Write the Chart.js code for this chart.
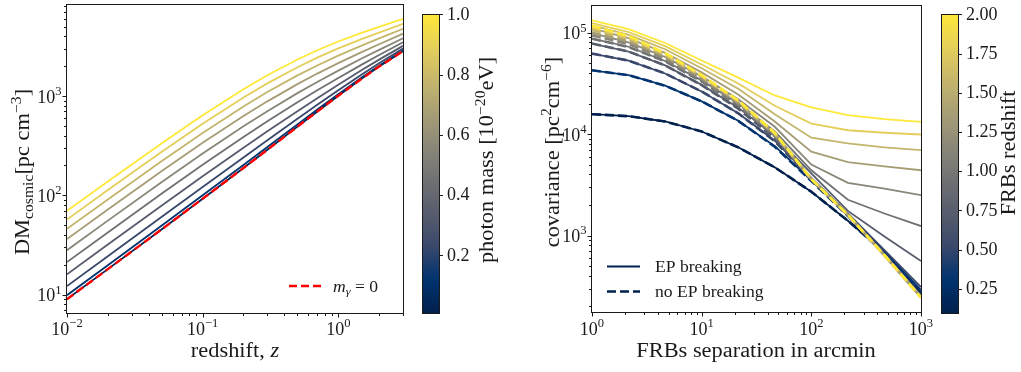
<!DOCTYPE html>
<html>
<head>
<meta charset="utf-8">
<script src="https://cdn.jsdelivr.net/npm/chart.js@4.4.1/dist/chart.umd.min.js"></script>
<style>
  html, body { margin: 0; padding: 0; background: #fff; }
  #wrap { position: relative; width: 1021px; height: 372px; overflow: hidden; }
  #wrap canvas { position: absolute; top: 0; }
</style>
</head>
<body>
<div id="wrap">
  <canvas id="dmChart" width="410" height="372" style="left:0"></canvas>
  <canvas id="massBar" width="110" height="372" style="left:410px"></canvas>
  <canvas id="covChart" width="420" height="372" style="left:520px"></canvas>
  <canvas id="zBar" width="91" height="372" style="left:930px"></canvas>
</div>
<script>
// left panel: DM_cosmic vs redshift, one curve per photon mass (1e-20 eV)
const redshift = [0.01, 0.02, 0.05, 0.1, 0.2, 0.3, 0.5, 0.7, 1.0, 1.5, 2.0, 3.0];
const photonMass = [0.01, 0.12, 0.23, 0.34, 0.45, 0.56, 0.67, 0.78, 0.89, 1.0];
const dmMassless = [9.02, 18.1, 45.6, 92.5, 188.5, 287.6, 491.6, 698.8, 1008, 1507, 1977, 2833];
const dmByMass = [
  [9.03, 18.1, 45.6, 92.6, 188.6, 287.7, 491.8, 699, 1008, 1507, 1977, 2833],
  [9.9, 19.8, 49.8, 100.4, 202.6, 306.7, 518.1, 730.3, 1044, 1548, 2020, 2878],
  [12.24, 24.45, 60.9, 121.4, 240.4, 357.9, 589, 814.7, 1142, 1657, 2135, 2999],
  [16.05, 31.97, 79.1, 155.7, 301.8, 441.1, 704.4, 952, 1300, 1835, 2323, 3196],
  [21.33, 42.4, 104.2, 203.2, 387, 556.5, 864.4, 1142, 1520, 2081, 2583, 3468],
  [28.09, 55.7, 136.4, 263.9, 495.9, 704.1, 1069, 1386, 1801, 2396, 2916, 3817],
  [36.31, 72, 175.6, 337.9, 628.6, 883.7, 1318, 1682, 2143, 2780, 3321, 4242],
  [46.01, 91.1, 221.7, 425.1, 784.9, 1096, 1612, 2031, 2547, 3232, 3799, 4742],
  [57.18, 113.2, 274.9, 525.5, 965, 1340, 1950, 2434, 3011, 3753, 4349, 5319],
  [69.8, 138.1, 335.1, 639.2, 1169, 1616, 2333, 2889, 3537, 4343, 4971, 5971]
];

// right panel: covariance vs FRB separation, one curve per FRB redshift
const sepArcmin = [1, 2.154, 4.642, 10, 21.54, 46.42, 100, 215.4, 464.2, 1000];
const frbRedshift = [0.1, 0.311, 0.522, 0.733, 0.944, 1.156, 1.367, 1.578, 1.789, 2.0];
const covEP = [
  [15700, 15000, 13300, 10600, 7400, 4700, 2700, 1400, 680, 272],
  [42500, 38000, 30000, 21000, 13500, 7600, 3500, 1600, 700, 290],
  [62000, 53000, 39500, 26300, 16000, 8600, 3700, 1650, 720, 311],
  [78000, 65000, 47500, 30500, 18200, 9600, 4100, 1750, 980, 560],
  [87000, 72500, 52500, 33800, 20000, 10600, 4400, 2250, 1650, 1240],
  [99000, 80000, 57500, 37000, 22000, 11800, 5000, 3300, 2900, 2500],
  [110000, 88000, 63000, 40500, 24500, 13300, 6700, 5300, 4800, 4400],
  [118000, 95000, 68500, 44500, 28000, 15700, 9200, 8100, 7400, 6950],
  [124000, 101000, 73500, 48500, 31500, 19000, 12700, 10900, 10300, 9900],
  [132000, 108000, 79000, 53000, 36000, 24000, 18300, 15400, 14000, 13200]
];
const covNoEP = [
  [15700, 15000, 13300, 10600, 7400, 4700, 2700, 1400, 680, 272],
  [42500, 38000, 30000, 21000, 13500, 7500, 3450, 1560, 665, 266],
  [62000, 53000, 39500, 26300, 16000, 8500, 3550, 1590, 652, 258],
  [78000, 65000, 47500, 30300, 17800, 9000, 3580, 1590, 645, 252],
  [87000, 72000, 52000, 33000, 19000, 9500, 3600, 1600, 642, 250],
  [94000, 77000, 55000, 34500, 19800, 9800, 3600, 1600, 641, 248],
  [100000, 82000, 58000, 36000, 20500, 10000, 3600, 1600, 640, 247],
  [106000, 86000, 60000, 37000, 21000, 10100, 3600, 1600, 640, 246],
  [112000, 89500, 61500, 37500, 21300, 10200, 3600, 1600, 640, 245],
  [117000, 92500, 63000, 38000, 21500, 10300, 3600, 1600, 640, 245]
];

const SERIF = '"Liberation Serif", "Times New Roman", serif';
const INK = '#1a1a1a';
const CIVIDIS = ['#00204D', '#00336F', '#39486B', '#575C6D', '#707173',
                 '#8A8779', '#A69D75', '#C4B56C', '#E4CF5B', '#FEE838'];

function cividis(t) {
  t = Math.min(1, Math.max(0, t));
  const f = t * (CIVIDIS.length - 1);
  const i = Math.min(Math.floor(f), CIVIDIS.length - 2), u = f - i;
  const a = CIVIDIS[i], b = CIVIDIS[i + 1];
  const ch = (h, k) => parseInt(h.substr(1 + 2 * k, 2), 16);
  const c = [0, 1, 2].map(k => Math.round(ch(a, k) + (ch(b, k) - ch(a, k)) * u));
  return 'rgb(' + c.join(',') + ')';
}

// text with super/subscripts, optionally rotated and stretched
function rich(ctx, parts, x, y, o) {
  const size = o.size, sx = o.sx || 1;
  const small = k => k === 'sup' || k === 'sub' || k === 'isub';
  const font = k => ((k === 'i' || k === 'isub') ? 'italic ' : '') + (small(k) ? size * 0.7 : size) + 'px ' + SERIF;
  const widths = parts.map(p => { ctx.font = font(p[1]); return ctx.measureText(p[0]).width; });
  const total = widths.reduce((s, w) => s + w, 0);
  ctx.save();
  ctx.translate(x, y);
  if (o.rot) ctx.rotate(o.rot);
  ctx.scale(sx, 1);
  ctx.fillStyle = INK;
  ctx.textBaseline = 'alphabetic';
  ctx.textAlign = 'left';
  let cx = o.align === 'center' ? -total / 2 : o.align === 'right' ? -total : 0;
  parts.forEach((p, i) => {
    ctx.font = font(p[1]);
    const dy = p[1] === 'sup' ? -size * 0.42 : small(p[1]) ? size * 0.2 : 0;
    ctx.fillText(p[0], cx, dy);
    cx += widths[i];
  });
  ctx.restore();
}

function logTicks(min, max) {
  const out = [];
  for (let e = Math.floor(Math.log10(min)); e <= Math.floor(Math.log10(max)); e++) {
    for (let k = 1; k <= 9; k++) {
      const v = k * Math.pow(10, e);
      if (v >= min * 0.999 && v <= max * 1.001) out.push({ v, e, major: k === 1 });
    }
  }
  return out;
}
const expText = e => (e < 0 ? '\u2212' : '') + Math.abs(e);

// box, log ticks, labels and legend in matplotlib style
const decor = {
  id: 'decor',
  afterDatasetsDraw(chart, args, o) {
    const { ctx, chartArea: a } = chart;
    const xs = chart.scales.x, ys = chart.scales.y;
    const L = Math.round(a.left) - 0.5, R = Math.round(a.right) + 0.5;
    const T = Math.round(a.top) - 0.5, B = Math.round(a.bottom) + 0.5;
    ctx.save();
    ctx.strokeStyle = INK;
    ctx.lineWidth = 1;
    ctx.strokeRect(L, T, R - L, B - T);
    ctx.beginPath();
    const xt = logTicks(xs.min, xs.max), yt = logTicks(ys.min, ys.max);
    xt.forEach(t => {
      const px = Math.round(xs.getPixelForValue(t.v)) + 0.5;
      ctx.moveTo(px, B); ctx.lineTo(px, B + (t.major ? 4 : 2.5));
    });
    yt.forEach(t => {
      const py = Math.round(ys.getPixelForValue(t.v)) + 0.5;
      ctx.moveTo(L, py); ctx.lineTo(L - (t.major ? 4 : 2.5), py);
    });
    ctx.stroke();
    xt.filter(t => t.major).forEach(t => {
      rich(ctx, [['10', ''], [expText(t.e), 'sup']], xs.getPixelForValue(t.v), o.xTickBase, { size: 18, align: 'center' });
    });
    yt.filter(t => t.major).forEach(t => {
      rich(ctx, [['10', ''], [expText(t.e), 'sup']], L - 5, ys.getPixelForValue(t.v) + 6.5, { size: 18, align: 'right' });
    });
    rich(ctx, o.xTitle.parts, o.xTitle.x, o.xTitle.y, { size: 20, sx: 1.12, align: 'center' });
    rich(ctx, o.yTitle.parts, o.yTitle.x, o.yTitle.y, { size: 20, sx: 1.12, align: 'center', rot: -Math.PI / 2 });
    (o.legend || []).forEach(it => {
      ctx.save();
      ctx.strokeStyle = it.color;
      ctx.lineWidth = it.width;
      ctx.setLineDash(it.dash || []);
      ctx.beginPath(); ctx.moveTo(it.x1, it.y); ctx.lineTo(it.x2, it.y); ctx.stroke();
      ctx.restore();
      rich(ctx, it.text, it.tx, it.y + 5.5, { size: 16, sx: 1.1 });
    });
    ctx.restore();
  }
};

// colorbar outline and rotated label
const cbar = {
  id: 'cbar',
  afterDatasetsDraw(chart, args, o) {
    const { ctx, chartArea: a } = chart;
    ctx.save();
    ctx.strokeStyle = INK;
    ctx.lineWidth = 1;
    ctx.strokeRect(Math.round(a.left) - 0.5, Math.round(a.top) - 0.5, Math.round(a.right - a.left) + 1, Math.round(a.bottom - a.top) + 1);
    ctx.restore();
    rich(ctx, o.parts, o.x, o.y, { size: 20, sx: 1.12, align: 'center', rot: -Math.PI / 2 });
  }
};

function gradientFill(c) {
  const a = c.chart.chartArea;
  if (!a) return CIVIDIS[0];
  const g = c.chart.ctx.createLinearGradient(0, a.bottom, 0, a.top);
  for (let i = 0; i <= 40; i++) g.addColorStop(i / 40, cividis(i / 40));
  return g;
}

const hidden = { ticks: { display: false }, grid: { display: false, drawTicks: false }, border: { display: false } };
const base = {
  responsive: false, animation: false, events: [], devicePixelRatio: 1,
  elements: { point: { radius: 0 }, line: { tension: 0 } }
};

// ---- left: DM vs redshift
const dmSets = photonMass.map((m, i) => ({
  label: 'm = ' + m,
  data: redshift.map((z, k) => ({ x: z, y: dmByMass[i][k] })),
  borderColor: cividis((m - photonMass[0]) / (photonMass[9] - photonMass[0])),
  borderWidth: 1.8, fill: false, order: 20 - i
}));
dmSets.push({
  label: 'm_gamma = 0',
  data: redshift.map((z, k) => ({ x: z, y: dmMassless[k] })),
  borderColor: '#ff0000', borderWidth: 2.4, borderDash: [8, 4], fill: false, order: 0
});

new Chart(document.getElementById('dmChart'), {
  type: 'line',
  data: { datasets: dmSets },
  options: Object.assign({}, base, {
    layout: { padding: { left: 0, top: 5, right: 7, bottom: 0 } },
    plugins: {
      legend: { display: false }, tooltip: { enabled: false },
      decor: {
        xTickBase: 335,
        xTitle: { parts: [['redshift, ', ''], ['z', 'i']], x: 235, y: 357 },
        yTitle: { parts: [['DM', ''], ['cosmic', 'sub'], ['[pc cm', ''], ['\u22123', 'sup'], [']', '']], x: 29, y: 172 },
        legend: [{ color: '#ff0000', width: 2.4, dash: [8, 4], x1: 289, x2: 322, y: 286, tx: 333,
                   text: [['m', 'i'], ['\u03b3', 'isub'], [' = 0', '']] }]
      }
    },
    scales: {
      x: Object.assign({ type: 'logarithmic', min: 0.01, max: 3, afterFit(s) { s.height = 59; } }, hidden),
      y: Object.assign({ type: 'logarithmic', min: 6.55, max: 8240, afterFit(s) { s.width = 67; } }, hidden)
    }
  }),
  plugins: [decor]
});

// ---- right: covariance vs separation
const covSets = [];
let seq = 0;
frbRedshift.forEach((z, i) => {
  const col = cividis((z - frbRedshift[0]) / (frbRedshift[9] - frbRedshift[0]));
  covSets.push({
    label: 'EP breaking z=' + z,
    data: sepArcmin.map((s, k) => ({ x: s, y: covEP[i][k] })),
    borderColor: col, borderWidth: 1.8, fill: false, order: 100 - seq++
  });
  covSets.push({
    label: 'no EP breaking z=' + z,
    data: sepArcmin.map((s, k) => ({ x: s, y: covNoEP[i][k] })),
    borderColor: col, borderWidth: 2.6, borderDash: [9, 4], fill: false, order: 100 - seq++
  });
});

new Chart(document.getElementById('covChart'), {
  type: 'line',
  data: { datasets: covSets },
  options: Object.assign({}, base, {
    layout: { padding: { left: 0, top: 6, right: 19, bottom: 0 } },
    plugins: {
      legend: { display: false }, tooltip: { enabled: false },
      decor: {
        xTickBase: 335,
        xTitle: { parts: [['FRBs separation in arcmin', '']], x: 236, y: 357 },
        yTitle: { parts: [['covariance [pc', ''], ['2', 'sup'], ['cm', ''], ['\u22126', 'sup'], [']', '']], x: 39, y: 152 },
        legend: [
          { color: CIVIDIS[0], width: 1.8, x1: 87, x2: 120, y: 266.5, tx: 135, text: [['EP breaking', '']] },
          { color: CIVIDIS[0], width: 2.6, dash: [9, 4], x1: 87, x2: 120, y: 291.5, tx: 135, text: [['no EP breaking', '']] }
        ]
      }
    },
    scales: {
      x: Object.assign({ type: 'logarithmic', min: 1, max: 1000, afterFit(s) { s.height = 60; } }, hidden),
      y: Object.assign({ type: 'logarithmic', min: 176.5, max: 182700, afterFit(s) { s.width = 72; } }, hidden)
    }
  }),
  plugins: [decor]
});

// ---- colorbars
function colorbar(id, vmin, vmax, step, digits, padLeft, axisWidth, title) {
  new Chart(document.getElementById(id), {
    type: 'bar',
    data: { labels: ['range'], datasets: [{ data: [[vmin, vmax]], backgroundColor: gradientFill, borderWidth: 0, barPercentage: 1, categoryPercentage: 1 }] },
    options: Object.assign({}, base, {
      layout: { padding: { left: padLeft, top: 5, right: 0, bottom: 59 } },
      plugins: { legend: { display: false }, tooltip: { enabled: false }, cbar: title },
      scales: {
        x: { display: false },
        y: {
          position: 'right', min: vmin, max: vmax,
          ticks: { stepSize: step, includeBounds: false, autoSkip: false, padding: 4, color: INK,
                   font: { family: SERIF, size: 18 }, callback: v => v.toFixed(digits) },
          grid: { drawOnChartArea: false, drawTicks: true, tickLength: 4, tickColor: INK, tickWidth: 1 },
          border: { display: false },
          afterFit(s) { s.width = axisWidth; }
        }
      }
    }),
    plugins: [cbar]
  });
}
colorbar('massBar', photonMass[0], photonMass[9], 0.2, 1, 13, 81,
  { parts: [['photon mass [10', ''], ['\u221220', 'sup'], ['eV]', '']], x: 83, y: 160 });
colorbar('zBar', frbRedshift[0], frbRedshift[9], 0.25, 2, 12, 63,
  { parts: [['FRBs redshift', '']], x: 85, y: 153 });
</script>
</body>
</html>
